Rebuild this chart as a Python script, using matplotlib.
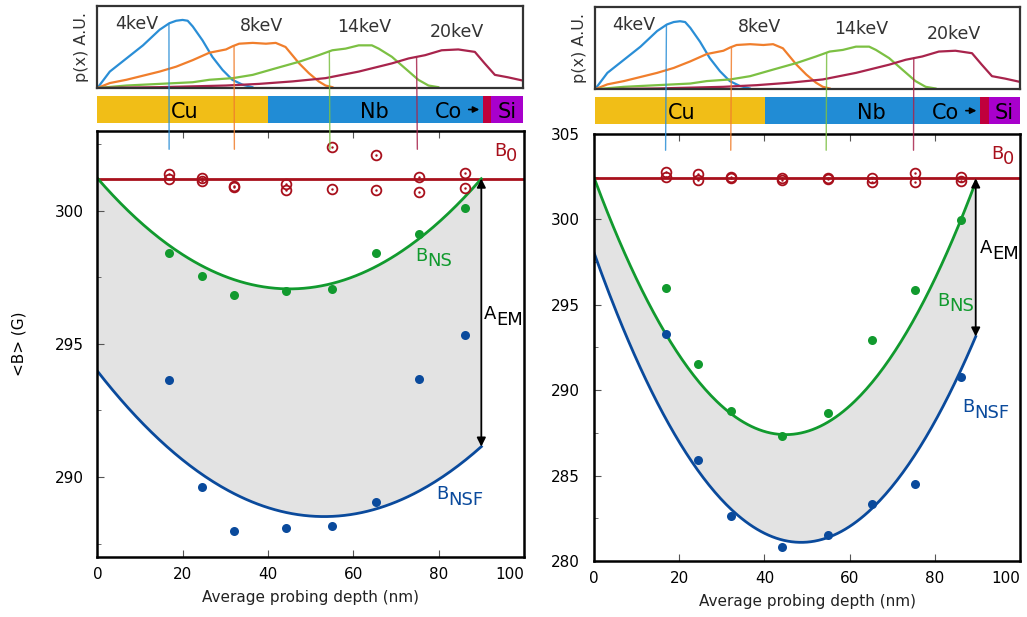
import numpy as np
import matplotlib
matplotlib.use("Agg")
import matplotlib.pyplot as plt
from matplotlib.patches import ConnectionPatch

plt.rcParams['font.family'] = ['DejaVu Sans']

# implantation profiles p(x), depth in nm, height in arbitrary units
prof_4_x = [0, 2.9, 6.8, 10.7, 14.6, 16.9, 18.5, 20.0, 21.2, 22.4, 24.7, 27.0, 29.4, 31.7, 34.1, 36.4]
prof_4_y = [0, 0.20, 0.36, 0.52, 0.71, 0.79, 0.82, 0.83, 0.82, 0.75, 0.58, 0.38, 0.22, 0.10, 0.04, 0.01]
prof_8_x = [0, 2.9, 6.8, 10.7, 14.6, 18.5, 22.4, 26.3, 30.2, 31.8, 33.3, 36.5, 39.6, 41.9, 44.2,
            45.8, 47.4, 49.7, 52.0, 53.6, 55.2]
prof_8_y = [0, 0.06, 0.10, 0.15, 0.20, 0.26, 0.34, 0.43, 0.47, 0.51, 0.54, 0.55, 0.54, 0.55, 0.50,
            0.40, 0.30, 0.18, 0.08, 0.03, 0.01]
prof_14_x = [0, 6.8, 14.6, 22.4, 26.3, 31.8, 36.5, 41.9, 47.4, 52.0, 55.2, 58.3, 61.4, 64.5, 66.1,
             69.2, 72.3, 75.4, 77.8, 80.1]
prof_14_y = [0, 0.03, 0.05, 0.07, 0.10, 0.12, 0.16, 0.24, 0.32, 0.40, 0.46, 0.48, 0.52, 0.52, 0.48,
             0.38, 0.24, 0.10, 0.03, 0.01]
prof_20_x = [0, 14.6, 30.2, 38.0, 45.8, 53.6, 61.4, 69.2, 73.1, 77.0, 80.9, 84.8, 88.7, 91.0, 93.4,
             96.5, 100]
prof_20_y = [0, 0.01, 0.03, 0.05, 0.08, 0.12, 0.20, 0.30, 0.36, 0.40, 0.46, 0.47, 0.44, 0.30, 0.16,
             0.13, 0.09]

energies = ['4keV', '8keV', '14keV', '20keV']
energy_depth = [16.8, 32.1, 54.5, 75.0]
energy_colors = ['#2a8ed6', '#f07e2c', '#7cc043', '#a8244c']
energy_label_x = [9.2, 38.6, 62.6, 84.4]
energy_label_y = [0.78, 0.76, 0.74, 0.68]

# sample layers (nm)
layers = ['Cu', 'Nb', 'Co', 'Si']
layer_start = [0, 40, 90.6, 92.6]
layer_end = [40, 90.6, 92.6, 100]
layer_colors = ['#f1be17', '#218cd5', '#c0003c', '#a800cc']

# average probing depth of each implantation energy
depth = [16.8, 24.4, 32.1, 44.1, 54.9, 65.3, 75.3, 86.1]

# left sample
b0_left = 301.2
b0_pts_left_a = [301.36, 301.24, 300.91, 301.01, 302.40, 302.08, 301.27, 301.40]
b0_pts_left_b = [301.19, 301.11, 300.89, 300.79, 300.81, 300.76, 300.69, 300.86]
bns_left = [298.42, 297.53, 296.83, 296.97, 297.07, 298.42, 299.13, 300.10]
bnsf_left = [293.65, 289.63, 287.96, 288.09, 288.15, 289.08, 293.68, 295.32]
fit_x_left = [0, 15, 30, 45, 60, 75, 90]
bns_fit_left = [301.19, 298.97, 297.47, 297.06, 297.53, 298.90, 301.19]
bnsf_fit_left = [294.03, 291.22, 289.54, 288.73, 288.60, 289.42, 291.14]

# right sample
b0_right = 302.4
b0_pts_right_a = [302.75, 302.63, 302.49, 302.43, 302.43, 302.43, 302.69, 302.49]
b0_pts_right_b = [302.50, 302.28, 302.40, 302.30, 302.36, 302.20, 302.20, 302.24]
bns_right = [296.0, 291.54, 288.81, 287.29, 288.65, 292.94, 295.87, 299.96]
bnsf_right = [293.27, 285.92, 282.65, 280.82, 281.52, 283.33, 284.50, 290.80]
fit_x_right = [0, 16.8, 30, 45, 60, 75, 89.6]
bns_fit_right = [302.40, 293.34, 289.13, 287.44, 289.04, 293.94, 302.30]
bnsf_fit_right = [298.01, 288.40, 283.60, 281.20, 282.00, 286.00, 293.20]

C_B0 = '#a8101c'
C_NS = '#119a2e'
C_NSF = '#0a4a9c'

fig = plt.figure(figsize=(10.27, 6.17), dpi=100)


def label_sub(ax, x, y, main, sub, color, size=13):
    t = ax.text(x, y, main, color=color, fontsize=size, ha='left', va='center')
    ax.annotate(sub, xy=(x, y), xytext=(size * 0.66, -size * 0.3), textcoords='offset points',
                color=color, fontsize=size, ha='left', va='center')
    return t


def draw_panel(rect_prof, rect_bar, rect_main, ylim, b0, pa, pb, bns, bnsf, fx, fns, fnsf,
               line_top, labels, ylabel=False):
    # implantation profiles
    axp = fig.add_axes(rect_prof)
    for px, py, c in zip([prof_4_x, prof_8_x, prof_14_x, prof_20_x],
                         [prof_4_y, prof_8_y, prof_14_y, prof_20_y], energy_colors):
        axp.plot(px, py, color=c, lw=1.6)
    for e, lx, ly in zip(energies, energy_label_x, energy_label_y):
        axp.text(lx, ly, e, fontsize=12.5, color='#333333', ha='center', va='center')
    axp.set_xlim(0, 100)
    axp.set_ylim(0, 1)
    axp.set_xticks([])
    axp.set_yticks([])
    for s in axp.spines.values():
        s.set_color('#333333')
        s.set_linewidth(1.6)
    axp.set_ylabel('p(x) A.U.', fontsize=11.5, color='#333333', labelpad=6)

    # layer bar
    axb = fig.add_axes(rect_bar)
    axb.barh([0] * 4, np.array(layer_end) - np.array(layer_start), left=layer_start,
             color=layer_colors, height=1, align='edge')
    axb.set_xlim(0, 100)
    axb.set_ylim(0, 1)
    axb.axis('off')
    axb.text(20.5, 0.42, 'Cu', fontsize=15, ha='center', va='center')
    axb.text(65, 0.42, 'Nb', fontsize=15, ha='center', va='center')
    axb.text(82.5, 0.42, 'Co', fontsize=15, ha='center', va='center')
    axb.annotate('', xy=(90.4, 0.5), xytext=(86.6, 0.5),
                 arrowprops=dict(arrowstyle='-|>', color='black', lw=1.2, mutation_scale=9))
    axb.text(96.3, 0.42, 'Si', fontsize=15, ha='center', va='center')

    # field data
    ax = fig.add_axes(rect_main)
    xs = np.linspace(0, fx[-1], 200)
    ns_curve = np.polyval(np.polyfit(fx, fns, 2), xs)
    nsf_curve = np.polyval(np.polyfit(fx, fnsf, 2), xs)
    ax.fill_between(xs, nsf_curve, ns_curve, color='#e3e3e3', lw=0)
    ax.axhline(b0, color=C_B0, lw=2)
    ax.plot(xs, ns_curve, color=C_NS, lw=2)
    ax.plot(xs, nsf_curve, color=C_NSF, lw=2)
    for pts in (pa, pb):
        ax.plot(depth, pts, 'o', mfc='none', mec=C_B0, ms=7, mew=1.3)
        ax.plot(depth, pts, '.', color=C_B0, ms=1.5)
    ax.plot(depth, bns, 'o', color=C_NS, ms=6.5, mec='none')
    ax.plot(depth, bnsf, 'o', color=C_NSF, ms=6.5, mec='none')
    ax.annotate('', xy=(fx[-1], nsf_curve[-1]), xytext=(fx[-1], b0),
                arrowprops=dict(arrowstyle='<|-|>', color='black', lw=1.3,
                                mutation_scale=13, shrinkA=0, shrinkB=0))
    label_sub(ax, *labels['b0'], 'B', '0', C_B0)
    label_sub(ax, *labels['ns'], 'B', 'NS', C_NS)
    label_sub(ax, *labels['nsf'], 'B', 'NSF', C_NSF)
    label_sub(ax, *labels['aem'], 'A', 'EM', 'black')

    ax.set_xlim(0, 100)
    ax.set_ylim(*ylim)
    ax.set_xticks([0, 20, 40, 60, 80, 100])
    ax.set_yticks(np.arange(np.ceil(ylim[0] / 5) * 5, ylim[1] + 0.1, 5))
    ax.set_yticks(np.arange(ylim[0] + 2.5 - ylim[0] % 2.5, ylim[1], 2.5), minor=True)
    ax.tick_params(direction='in', top=True, right=False, labelsize=11, length=5, color='#555555')
    ax.tick_params(which='minor', direction='in', length=3, color='#555555')
    ax.tick_params(axis='y', pad=10)
    ax.tick_params(axis='x', pad=7)
    ax.get_xticklabels()[-1].set_horizontalalignment('right')
    for s in ax.spines.values():
        s.set_linewidth(1.8)
    ax.set_xlabel('Average probing depth (nm)', fontsize=11, color='#222222', labelpad=6)
    if ylabel:
        ax.set_ylabel('<B> (G)', fontsize=11, labelpad=20)

    # depth markers from profile down into the field panel
    for d, c, py, px in zip(energy_depth, energy_colors,
                            [prof_4_y, prof_8_y, prof_14_y, prof_20_y],
                            [prof_4_x, prof_8_x, prof_14_x, prof_20_x]):
        top = np.interp(d, px, py)
        con = ConnectionPatch(xyA=(d, top), coordsA=axp.transData,
                              xyB=(d, line_top), coordsB=ax.transData,
                              color=c, lw=1.0, alpha=0.85, zorder=5)
        fig.add_artist(con)
    return ax


draw_panel([0.0949, 0.8574, 0.4143, 0.1329], [0.0949, 0.8006, 0.4143, 0.0438],
           [0.0949, 0.0973, 0.4153, 0.691], (287, 303), b0_left,
           b0_pts_left_a, b0_pts_left_b, bns_left, bnsf_left,
           fit_x_left, bns_fit_left, bnsf_fit_left, 302.3,
           {'b0': (93.0, 302.25), 'ns': (74.5, 298.3), 'nsf': (79.5, 289.35),
            'aem': (90.6, 296.1)}, ylabel=True)

draw_panel([0.5794, 0.8553, 0.4138, 0.1329], [0.5794, 0.799, 0.4138, 0.0433],
           [0.5784, 0.0908, 0.4148, 0.692], (280, 305), b0_right,
           b0_pts_right_a, b0_pts_right_b, bns_right, bnsf_right,
           fit_x_right, bns_fit_right, bnsf_fit_right, 304.05,
           {'b0': (93.2, 303.85), 'ns': (80.5, 295.25), 'nsf': (86.5, 289.0),
            'aem': (90.6, 298.3)})

fig.savefig('out.png', dpi=100)
